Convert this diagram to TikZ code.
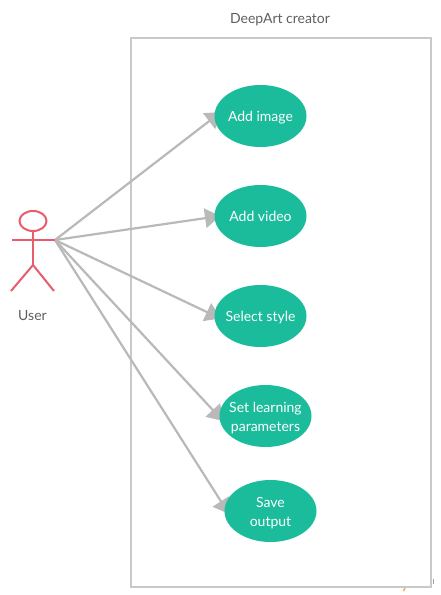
\documentclass[tikz,border=0pt]{standalone}
\usepackage{fontspec}
\setmainfont{Lato}
\usetikzlibrary{shapes.geometric,arrows.meta,backgrounds}
\definecolor{teal}{HTML}{1ABC9C}
\definecolor{linegray}{HTML}{B9B9B9}
\definecolor{boxgray}{HTML}{C9C9C9}
\definecolor{txtgray}{HTML}{5F5F5F}
\definecolor{actorred}{HTML}{E85C6C}
\newcommand{\lowline}{\rule{0pt}{12.5pt}}
\tikzset{
  usecase/.style={ellipse,fill=teal,text=white,minimum width=92pt,minimum height=62pt,inner sep=0pt,outer sep=0pt,align=center,text depth=0pt,font=\fontsize{14}{19}\selectfont},
  conn/.style={draw=linegray,line width=2.2pt,-{Triangle[length=15pt,width=19.5pt]}},
  actorline/.style={draw=actorred,line width=2pt},
  lbl/.style={text=txtgray,font=\fontsize{14}{17}\selectfont,inner sep=0pt,text depth=0pt}
}
\begin{document}
\begin{tikzpicture}[x=1pt,y=-1pt]
\useasboundingbox (0,0) rectangle (440,595);
\node[lbl] (title) at (280,18) {DeepArt creator};
% actor
\node[ellipse,draw=actorred,line width=2pt,minimum width=27pt,minimum height=20pt,inner sep=0pt] (head) at (33,221) {};
\coordinate (handL) at (12,240);
\coordinate (handR) at (55,240);
\coordinate (hip) at (33,265);
\coordinate (footL) at (11,291);
\coordinate (footR) at (54,291);
\draw[actorline] (head.south) -- (hip);
\draw[actorline] (handL) -- (handR);
\draw[actorline] (footL) -- (hip) -- (footR);
\node[lbl] (user) at (32.5,315) {User};
% use cases
\node[usecase] (img) at (260.5,116) {\makebox[0pt]{Add image}};
\node[usecase] (vid) at (260.5,216) {\makebox[0pt]{Add video}};
\node[usecase] (sty) at (260.5,316) {\makebox[0pt]{Select style}};
\node[usecase] (lrn) at (265.5,416) {\makebox[0pt]{\lowline Set learning}\\\makebox[0pt]{parameters}};
\node[usecase] (sav) at (270.5,511) {\makebox[0pt]{\lowline Save}\\\makebox[0pt]{output}};
\begin{scope}[on background layer]
\fill[white] (0,0) rectangle (440,595);
\draw[draw=boxgray,line width=2pt] (131,38) rectangle (431,587);
% stray marks at the lower right edge
\draw[draw=orange!70,line width=1.5pt] (405,588) -- (403.5,591);
\draw[draw=txtgray!60,line width=.8pt] (433,579) -- (433,584);
% connectors: their tips run under the ellipses
\draw[conn] (handR) -- ([xshift=6.5pt,yshift=4pt]img.west);
\draw[conn] (handR) -- ([xshift=5.5pt]vid.west);
\draw[conn] (handR) -- ([xshift=6pt,yshift=-2.5pt]sty.west);
\draw[conn] (handR) -- ([xshift=3.5pt,yshift=-5pt]lrn.west);
\draw[conn] (handR) -- ([xshift=4.5pt,yshift=-3pt]sav.west);
\end{scope}
\end{tikzpicture}
\end{document}
